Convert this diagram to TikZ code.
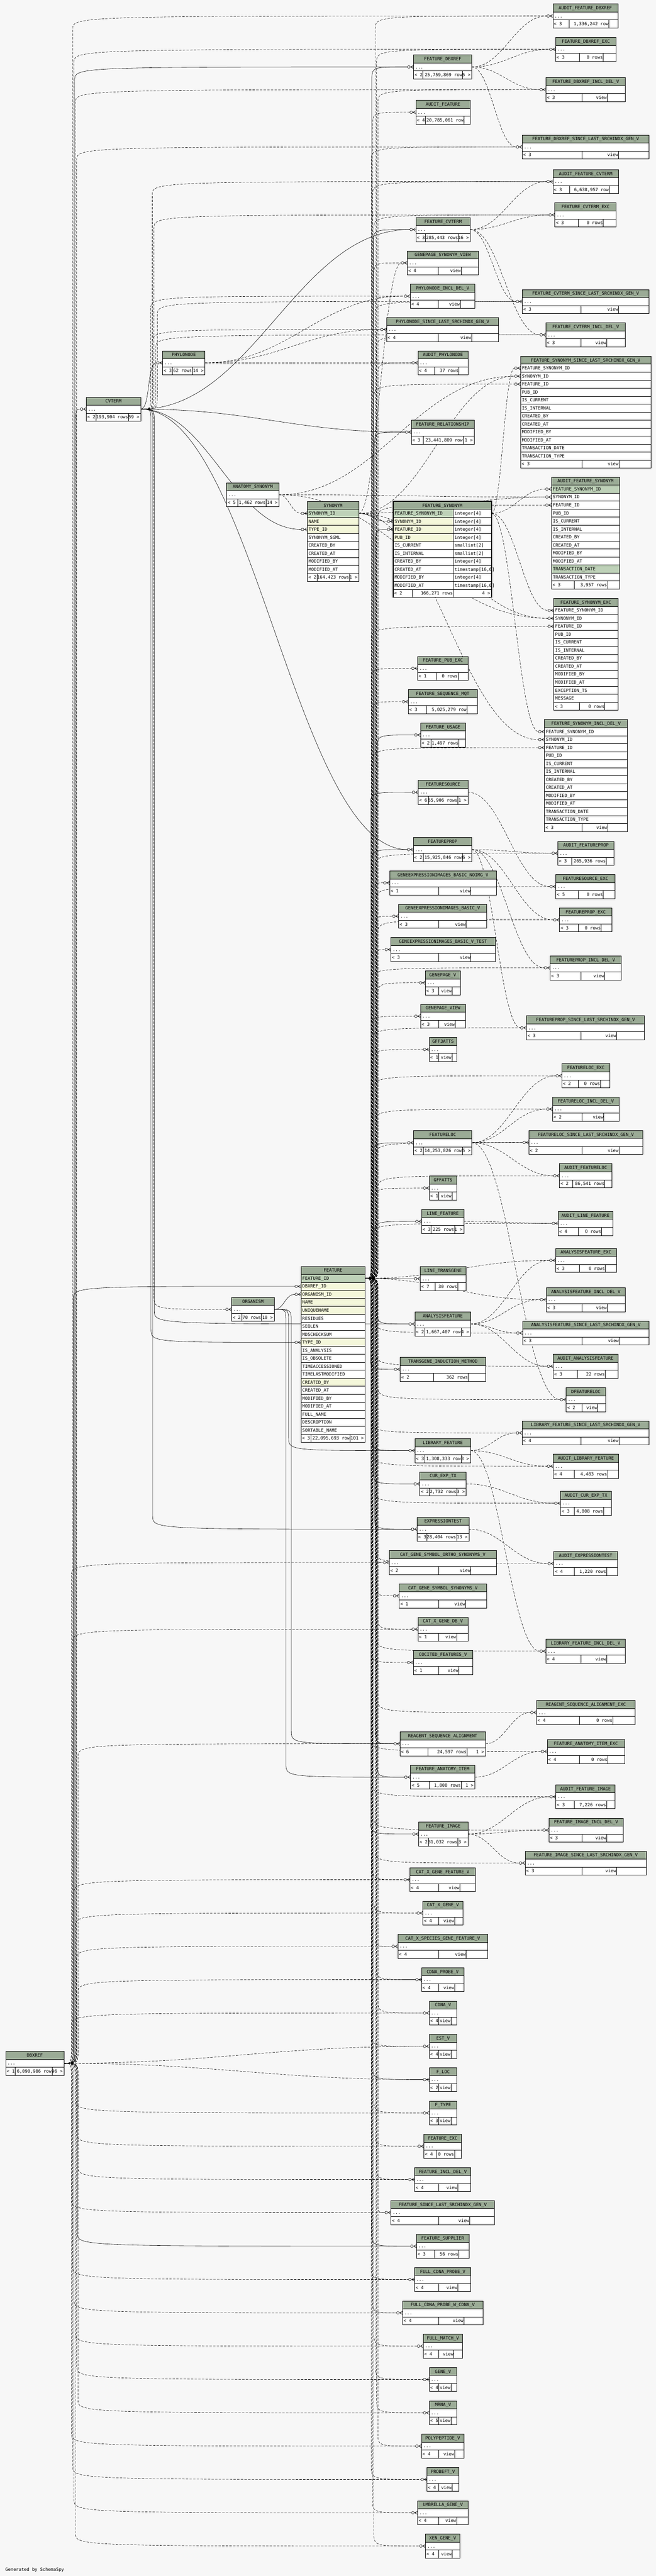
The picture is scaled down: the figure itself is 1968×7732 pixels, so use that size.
\documentclass[tikz,border=0pt]{standalone}
\usepackage{fontspec}
\setmonofont{DejaVu Sans Mono}
\definecolor{bgc}{HTML}{F7F7F7}
\definecolor{hdc}{HTML}{9BAB96}
\definecolor{pkc}{HTML}{BED1B8}
\definecolor{ixc}{HTML}{F4F7DA}
\pgfdeclarelayer{bglayer}
\pgfdeclarelayer{edgelayer}
\pgfsetlayers{bglayer,edgelayer,main}
\tikzset{
  tx/.style={font=\ttfamily\fontsize{13.3}{15}\selectfont,inner sep=0pt,text height=9.7pt,text depth=0pt},
  box/.style={draw=black,line width=1pt},
  fk/.style={draw=black,line width=0.9pt},
  imp/.style={draw=black,line width=0.9pt,dash pattern=on 7pt off 4pt},
  crow/.pic={
    \draw[line width=0.9pt] (-9,0) -- (0,-5) (-9,0) -- (0,0) (-9,0) -- (0,5);
    \draw[line width=0.9pt,fill=bgc] (-14,0) circle[radius=4pt];
  }
}
\newdimen\edsx \newdimen\edsy \newdimen\edtx \newdimen\edty
\newcommand\getends[2]{%
  \pgfextractx{\edsx}{\pgfpointanchor{#1}{center}}%
  \pgfextracty{\edsy}{\pgfpointanchor{#1}{center}}%
  \pgfextractx{\edtx}{\pgfpointanchor{#2}{center}}%
  \pgfextracty{\edty}{\pgfpointanchor{#2}{center}}%
  \edef\sxx{\the\edsx}\edef\syy{\the\edsy}\edef\txx{\the\edtx}\edef\tyy{\the\edty}}
% smooth S-curve from east side to west side
\newcommand\sedge[3]{%
  \getends{#2}{#3}%
  \pgfmathsetmacro\dd{max(30,0.42*abs(\txx-(\sxx)))}%
  \pgfmathsetmacro\ca{\sxx+\dd}%
  \pgfmathsetmacro\cb{\txx-\dd}%
  \draw[#1] (#2) .. controls (\ca pt,\syy) and (\cb pt,\tyy) .. (#3);}
% routed along a vertical bus at x = #4
\newcommand\busedge[4]{%
  \getends{#2}{#3}%
  \pgfmathsetmacro\dyy{abs(\tyy-(\syy))}%
  \pgfmathtruncatemacro\near{\dyy<90 ? 1 : 0}%
  \ifnum\near=1
    \sedge{#1}{#2}{#3}%
  \else
    \pgfmathsetmacro\rr{(\tyy)<(\syy) ? -40 : 40}%
    \pgfmathsetmacro\ya{\syy+(\rr)}%
    \pgfmathsetmacro\yb{\tyy-(\rr)}%
    \draw[#1] (#2) .. controls (#4pt,\syy) and (#4pt,\syy) .. (#4pt,\ya pt) -- (#4pt,\yb pt) .. controls (#4pt,\tyy) and (#4pt,\tyy) .. (#3);%
  \fi}
\newcommand\xtab[6]{%
  \fill[hdc] (#3,#5) rectangle (#4,#5+24);
  \draw[box] (#3,#5) rectangle (#4,#5+24);
  \node[tx] (#1) at ({(#3+#4)/2},#5+12) {#2};
  \foreach \cn/\col [count=\i] in {#6}{
    \fill[\col] (#3,#5+24*\i) rectangle (#4,#5+24*\i+24);
    \draw[box] (#3,#5+24*\i) rectangle (#4,#5+24*\i+24);
    \node[tx,anchor=west] at (#3+4,#5+24*\i+12) {\cn};
    \coordinate (#1-r\i-w) at (#3,#5+24*\i+12);
    \coordinate (#1-r\i-e) at (#4,#5+24*\i+12);
    \coordinate (#1-r\i-m) at (#3-18,#5+24*\i+12);
  }}
\newcommand\xfoot[8]{%
  \fill[white] (#1,#3) rectangle (#2,#3+24);
  \draw[box] (#1,#3) rectangle (#2,#3+24) (#4,#3) -- (#4,#3+24) (#5,#3) -- (#5,#3+24);
  \node[tx,anchor=west] at (#1+3,#3+12) {< #6};
  \node[tx,anchor=east] at (#5-1,#3+12) {#7};
  \node[tx,anchor=east] at (#2-4,#3+12) {#8};}
\begin{document}
\begin{tikzpicture}[x=1pt,y=-1pt]
\useasboundingbox (0,0) rectangle (1968,7732);
\begin{pgfonlayer}{bglayer}\fill[bgc] (0,0) rectangle (1968,7732);\end{pgfonlayer}

% ---------- compact tables ----------
\foreach \id/\nm/\xa/\xb/\yt/\da/\db/\lt/\mt/\rt in {
afdx/AUDIT\_FEATURE\_DBXREF/1659/1854/12/1707/1827/3/{1,336,242 row}/{},
fdxexc/FEATURE\_DBXREF\_EXC/1667/1849/112/1738/1810/3/{0 rows}/{},
fdx/FEATURE\_DBXREF/1241/1416/165/1269/1388/2/{25,759,869 row}/{5 >},
fdxincl/FEATURE\_DBXREF\_INCL\_DEL\_V/1638/1877/233/1746/1822/3/view/{},
af/AUDIT\_FEATURE/1248/1411/301/1277/1393/4/{20,785,061 row}/{},
fdxsince/FEATURE\_DBXREF\_SINCE\_LAST\_SRCHINDX\_GEN\_V/1567/1948/405/1746/1856/3/view/{},
afcv/AUDIT\_FEATURE\_CVTERM/1659/1856/509/1709/1828/3/{6,638,957 row}/{},
fcvexc/FEATURE\_CVTERM\_EXC/1665/1849/609/1735/1810/3/{0 rows}/{},
fcv/FEATURE\_CVTERM/1248/1411/653/1277/1376/3/{285,443 rows}/{16 >},
gsv/GENEPAGE\_SYNONYM\_VIEW/1222/1435/753/1315/1384/4/view/{},
pnincl/PHYLONODE\_INCL\_DEL\_V/1231/1425/853/1315/1381/4/view/{},
fcvsince/FEATURE\_CVTERM\_SINCE\_LAST\_SRCHINDX\_GEN\_V/1567/1948/869/1743/1856/3/view/{},
pnsince/PHYLONODE\_SINCE\_LAST\_SRCHINDX\_GEN\_V/1160/1496/953/1315/1415/4/view/{},
fcvincl/FEATURE\_CVTERM\_INCL\_DEL\_V/1638/1877/969/1743/1820/3/view/{},
apn/AUDIT\_PHYLONODE/1254/1404/1053/1304/1377/4/{37 rows}/{},
frel/FEATURE\_RELATIONSHIP/1234/1423/1261/1270/1390/3/{23,441,809 row}/{1 >},
anasyn/ANATOMY\_SYNONYM/680/837/1449/713/798/5/{1,462 rows}/{14 >},
fpubexc/FEATURE\_PUB\_EXC/1253/1405/1970/1310/1375/1/{0 rows}/{},
fseq/FEATURE\_SEQUENCE\_MQT/1225/1432/2070/1280/1401/3/{5,025,279 row}/{},
fusage/FEATURE\_USAGE/1262/1397/2170/1294/1377/2/{1,497 rows}/{},
fsrc/FEATURESOURCE/1255/1404/2342/1285/1374/6/{55,906 rows}/{1 >},
fprop/FEATUREPROP/1240/1416/2514/1270/1387/2/{15,925,846 row}/{6 >},
afprop/AUDIT\_FEATUREPROP/1674/1843/2525/1715/1819/3/{265,936 rows}/{},
genoimg/GENEEXPRESSIONIMAGES\_BASIC\_NOIMG\_V/1169/1489/2614/1317/1413/1/view/{},
fsrcexc/FEATURESOURCE\_EXC/1668/1846/2625/1736/1810/5/{0 rows}/{},
gebv/GENEEXPRESSIONIMAGES\_BASIC\_V/1196/1461/2714/1316/1399/3/view/{},
fpropexc/FEATUREPROP\_EXC/1679/1836/2725/1736/1804/3/{0 rows}/{},
gebvt/GENEEXPRESSIONIMAGES\_BASIC\_V\_TEST/1173/1486/2814/1317/1413/3/view/{},
fpropincl/FEATUREPROP\_INCL\_DEL\_V/1651/1864/2869/1743/1814/3/view/{},
gpv/GENEPAGE\_V/1276/1381/2914/1316/1357/3/view/{},
gpview/GENEPAGE\_VIEW/1262/1397/3014/1317/1366/3/view/{},
fpropsince/FEATUREPROP\_SINCE\_LAST\_SRCHINDX\_GEN\_V/1580/1934/3049/1743/1850/3/view/{},
gff3/GFF3ATTS/1288/1371/3114/1316/1356/1/view/{},
flocexc/FEATURELOC\_EXC/1686/1830/3193/1736/1802/2/{0 rows}/{},
flocincl/FEATURELOC\_INCL\_DEL\_V/1658/1858/3293/1746/1812/2/view/{},
floc/FEATURELOC/1241/1416/3394/1270/1387/2/{14,253,826 row}/{5 >},
flocsince/FEATURELOC\_SINCE\_LAST\_SRCHINDX\_GEN\_V/1587/1929/3393/1746/1857/2/view/{},
afloc/AUDIT\_FEATURELOC/1679/1836/3493/1719/1815/2/{86,541 rows}/{},
gffatts/GFFATTS/1288/1371/3530/1316/1356/1/view/{},
lfeat/LINE\_FEATURE/1265/1392/3630/1293/1364/3/{225 rows}/{1 >},
alfeat/AUDIT\_LINE\_FEATURE/1675/1839/3636/1736/1805/4/{0 rows}/{},
afexc/ANALYSISFEATURE\_EXC/1667/1850/3747/1738/1816/3/{0 rows}/{},
ltg/LINE\_TRANSGENE/1261/1398/3802/1305/1373/7/{30 rows}/{},
afincl/ANALYSISFEATURE\_INCL\_DEL\_V/1639/1877/3865/1746/1822/3/view/{},
anf/ANALYSISFEATURE/1245/1412/3938/1274/1384/2/{1,667,407 row}/{4 >},
anfsince/ANALYSISFEATURE\_SINCE\_LAST\_SRCHINDX\_GEN\_V/1568/1948/3965/1746/1858/3/view/{},
aanf/AUDIT\_ANALYSISFEATURE/1660/1854/4065/1732/1816/3/{22 rows}/{},
tim/TRANSGENE\_INDUCTION\_METHOD/1201/1457/4074/1301/1405/2/{362 rows}/{},
dfloc/DFEATURELOC/1699/1817/4165/1746/1793/2/view/{},
lfsince/LIBRARY\_FEATURE\_SINCE\_LAST\_SRCHINDX\_GEN\_V/1567/1948/4265/1744/1857/4/view/{},
libf/LIBRARY\_FEATURE/1245/1412/4318/1274/1384/3/{1,308,333 row}/{3 >},
alibf/AUDIT\_LIBRARY\_FEATURE/1660/1856/4365/1723/1823/4/{4,483 rows}/{},
cet/CUR\_EXP\_TX/1260/1399/4418/1288/1371/2/{2,732 rows}/{3 >},
acet/AUDIT\_CUR\_EXP\_TX/1682/1835/4476/1723/1811/3/{4,808 rows}/{},
et/EXPRESSIONTEST/1252/1407/4554/1281/1370/3/{28,404 rows}/{13 >},
cgso/CAT\_GENE\_SYMBOL\_ORTHO\_SYNONYMS\_V/1168/1489/4654/1316/1413/2/view/{},
aet/AUDIT\_EXPRESSIONTEST/1662/1853/4657/1723/1820/4/{1,220 rows}/{},
cgs/CAT\_GENE\_SYMBOL\_SYNONYMS\_V/1198/1460/4754/1316/1397/1/view/{},
cxgdb/CAT\_X\_GENE\_DB\_V/1254/1404/4854/1316/1370/1/view/{},
lfincl/LIBRARY\_FEATURE\_INCL\_DEL\_V/1638/1877/4920/1744/1820/4/view/{},
cocit/COCITED\_FEATURES\_V/1240/1418/4954/1316/1377/1/view/{},
rsaexc/REAGENT\_SEQUENCE\_ALIGNMENT\_EXC/1610/1906/5104/1738/1839/4/{0 rows}/{},
rsa/REAGENT\_SEQUENCE\_ALIGNMENT/1200/1457/5198/1284/1401/6/{24,597 rows}/{1 >},
faiexc/FEATURE\_ANATOMY\_ITEM\_EXC/1642/1874/5221/1738/1824/4/{0 rows}/{},
fai/FEATURE\_ANATOMY\_ITEM/1232/1425/5298/1288/1384/5/{1,808 rows}/{1 >},
afimg/AUDIT\_FEATURE\_IMAGE/1668/1846/5357/1723/1820/3/{7,226 rows}/{},
fimgincl/FEATURE\_IMAGE\_INCL\_DEL\_V/1647/1870/5457/1746/1820/3/view/{},
fimg/FEATURE\_IMAGE/1256/1404/5469/1285/1374/2/{31,032 rows}/{3 >},
fimgsince/FEATURE\_IMAGE\_SINCE\_LAST\_SRCHINDX\_GEN\_V/1576/1939/5556/1746/1850/3/view/{},
cxgf/CAT\_X\_GENE\_FEATURE\_V/1230/1427/5606/1316/1380/4/view/{},
cxg/CAT\_X\_GENE\_V/1269/1389/5706/1316/1364/4/view/{},
cxsgf/CAT\_X\_SPECIES\_GENE\_FEATURE\_V/1194/1463/5806/1316/1399/4/view/{},
cdnap/CDNA\_PROBE\_V/1265/1392/5906/1316/1364/4/view/{},
cdna/CDNA\_V/1288/1371/6006/1316/1353/4/view/{},
est/EST\_V/1288/1371/6106/1316/1353/4/view/{},
floct/F\_LOC/1288/1371/6206/1316/1353/2/view/{},
ftype/F\_TYPE/1288/1371/6306/1316/1353/3/view/{},
fexc/FEATURE\_EXC/1272/1385/6406/1309/1364/4/{0 rows}/{},
fincl/FEATURE\_INCL\_DEL\_V/1244/1413/6506/1316/1373/4/view/{},
fsince/FEATURE\_SINCE\_LAST\_SRCHINDX\_GEN\_V/1173/1484/6605/1316/1409/4/view/{},
fsup/FEATURE\_SUPPLIER/1250/1407/6706/1304/1377/3/{56 rows}/{},
fcdnap/FULL\_CDNA\_PROBE\_V/1244/1413/6806/1316/1373/4/view/{},
fcdnapw/FULL\_CDNA\_PROBE\_W\_CDNA\_V/1208/1449/6906/1316/1392/4/view/{},
fmatch/FULL\_MATCH\_V/1270/1388/7006/1316/1362/4/view/{},
genev/GENE\_V/1288/1371/7106/1316/1353/4/view/{},
mrna/MRNA\_V/1288/1371/7206/1316/1353/5/view/{},
poly/POLYPEPTIDE\_V/1265/1392/7306/1316/1364/4/view/{},
probeft/PROBEFT\_V/1281/1377/7406/1316/1357/4/view/{},
umb/UMBRELLA\_GENE\_V/1253/1405/7506/1316/1370/4/view/{},
xen/XEN\_GENE\_V/1277/1380/7606/1316/1357/4/view/{},
phylo/PHYLONODE/488/615/1053/517/577/3/{62 rows}/{14 >},
cvterm/CVTERM/259/422/1192/288/386/2/{193,904 rows}/{59 >},
dbxref/DBXREF/17/192/6157/45/156/1/{6,090,986 row}/{96 >},
organism/ORGANISM/695/823/3894/726/785/2/{70 rows}/{10 >}}{
  \fill[white] (\xa,\yt+24) rectangle (\xb,\yt+72);
  \fill[hdc] (\xa,\yt) rectangle (\xb,\yt+24);
  \draw[box] (\xa,\yt) rectangle (\xb,\yt+72)
     (\xa,\yt+24) -- (\xb,\yt+24) (\xa,\yt+48) -- (\xb,\yt+48)
     (\da,\yt+48) -- (\da,\yt+72) (\db,\yt+48) -- (\db,\yt+72);
  \node[tx] (\id) at ({(\xa+\xb)/2},\yt+12) {\nm};
  \node[tx,anchor=west] at (\xa+5,\yt+36) {...};
  \node[tx,anchor=west] at (\xa+3,\yt+60) {< \lt};
  \node[tx,anchor=east] at (\db-1,\yt+60) {\mt};
  \node[tx,anchor=east] at (\xb-4,\yt+60) {\rt};
  \coordinate (\id-w) at (\xa,\yt+36);
  \coordinate (\id-e) at (\xb,\yt+36);
  \coordinate (\id-m) at (\xa-18,\yt+36);
}

% ---------- expanded tables ----------
\xtab{syn}{SYNONYM}{922}{1077}{1505}{SYNONYM\_ID/pkc,NAME/ixc,TYPE\_ID/ixc,SYNONYM\_SGML/white,CREATED\_BY/white,CREATED\_AT/white,MODIFIED\_BY/white,MODIFIED\_AT/white}
\xfoot{922}{1077}{1721}{951}{1049}{2}{164,423 rows}{1 >}

\xtab{feat}{FEATURE}{903}{1096}{3801}{FEATURE\_ID/pkc,DBXREF\_ID/ixc,ORGANISM\_ID/ixc,NAME/ixc,UNIQUENAME/ixc,RESIDUES/white,SEQLEN/white,MD5CHECKSUM/white,TYPE\_ID/ixc,IS\_ANALYSIS/white,IS\_OBSOLETE/white,TIMEACCESSIONED/white,TIMELASTMODIFIED/white,CREATED\_BY/ixc,CREATED\_AT/white,MODIFIED\_BY/white,MODIFIED\_AT/white,FULL\_NAME/white,DESCRIPTION/white,SORTABLE\_NAME/white}
\xfoot{903}{1096}{4305}{933}{1051}{3}{22,095,693 row}{101 >}

\xtab{fssince}{FEATURE\_SYNONYM\_SINCE\_LAST\_SRCHINDX\_GEN\_V}{1562}{1953}{1069}{FEATURE\_SYNONYM\_ID/white,SYNONYM\_ID/white,FEATURE\_ID/white,PUB\_ID/white,IS\_CURRENT/white,IS\_INTERNAL/white,CREATED\_BY/white,CREATED\_AT/white,MODIFIED\_BY/white,MODIFIED\_AT/white,TRANSACTION\_DATE/white,TRANSACTION\_TYPE/white}
\xfoot{1562}{1953}{1381}{1746}{1857}{3}{view}{}

\xtab{afs}{AUDIT\_FEATURE\_SYNONYM}{1655}{1859}{1432}{FEATURE\_SYNONYM\_ID/pkc,SYNONYM\_ID/white,FEATURE\_ID/white,PUB\_ID/white,IS\_CURRENT/white,IS\_INTERNAL/white,CREATED\_BY/white,CREATED\_AT/white,MODIFIED\_BY/white,MODIFIED\_AT/white,TRANSACTION\_DATE/pkc,TRANSACTION\_TYPE/white}
\xfoot{1655}{1859}{1744}{1723}{1823}{3}{3,957 rows}{}

\xtab{fsexc}{FEATURE\_SYNONYM\_EXC}{1662}{1854}{1796}{FEATURE\_SYNONYM\_ID/white,SYNONYM\_ID/white,FEATURE\_ID/white,PUB\_ID/white,IS\_CURRENT/white,IS\_INTERNAL/white,CREATED\_BY/white,CREATED\_AT/white,MODIFIED\_BY/white,MODIFIED\_AT/white,EXCEPTION\_TS/white,MESSAGE/white}
\xfoot{1662}{1854}{2108}{1738}{1815}{3}{0 rows}{}

\xtab{fsincl}{FEATURE\_SYNONYM\_INCL\_DEL\_V}{1634}{1883}{2160}{FEATURE\_SYNONYM\_ID/white,SYNONYM\_ID/white,FEATURE\_ID/white,PUB\_ID/white,IS\_CURRENT/white,IS\_INTERNAL/white,CREATED\_BY/white,CREATED\_AT/white,MODIFIED\_BY/white,MODIFIED\_AT/white,TRANSACTION\_DATE/white,TRANSACTION\_TYPE/white}
\xfoot{1634}{1883}{2472}{1746}{1823}{3}{view}{}

% focus table FEATURE_SYNONYM
\fill[hdc] (1180,1505) rectangle (1475,1529);
\draw[box] (1180,1505) rectangle (1475,1529);
\node[tx] (fsyn) at (1327.5,1517) {FEATURE\_SYNONYM};
\foreach \cn/\ty/\col [count=\i] in {FEATURE\_SYNONYM\_ID/integer[4]/pkc,SYNONYM\_ID/integer[4]/ixc,FEATURE\_ID/integer[4]/ixc,PUB\_ID/integer[4]/ixc,IS\_CURRENT/smallint[2]/white,IS\_INTERNAL/smallint[2]/white,CREATED\_BY/integer[4]/white,CREATED\_AT/{timestamp[16,6]}/white,MODIFIED\_BY/integer[4]/white,MODIFIED\_AT/{timestamp[16,6]}/white}{
  \fill[white] (1180,1505+24*\i) rectangle (1475,1529+24*\i);
  \fill[\col] (1180,1505+24*\i) rectangle (1360,1529+24*\i);
  \draw[box] (1180,1505+24*\i) rectangle (1360,1529+24*\i) (1360,1505+24*\i) rectangle (1475,1529+24*\i);
  \node[tx,anchor=west] at (1184,1517+24*\i) {\cn};
  \node[tx,anchor=west] at (1364,1517+24*\i) {\ty};
  \coordinate (fsyn-r\i-w) at (1180,1517+24*\i);
  \coordinate (fsyn-r\i-e) at (1475,1517+24*\i);
  \coordinate (fsyn-r\i-m) at (1162,1517+24*\i);
}
\xfoot{1180}{1475}{1769}{1238}{1360}{2}{166,271 rows}{4 >}
\draw[line width=2.5pt] (1180,1505) rectangle (1475,1793);

% ---------- markers ----------
\foreach \tg in {afdx,fdxexc,fdx,fdxincl,af,fdxsince,afcv,fcvexc,fcv,gsv,pnincl,fcvsince,pnsince,fcvincl,apn,frel,fpubexc,fseq,fusage,fsrc,fprop,afprop,genoimg,fsrcexc,gebv,fpropexc,gebvt,fpropincl,gpv,gpview,fpropsince,gff3,flocexc,flocincl,floc,flocsince,afloc,gffatts,lfeat,alfeat,afexc,ltg,afincl,anf,anfsince,aanf,tim,dfloc,lfsince,libf,alibf,cet,acet,et,cgso,aet,cgs,cxgdb,lfincl,cocit,rsaexc,rsa,faiexc,fai,afimg,fimgincl,fimg,fimgsince,cxgf,cxg,cxsgf,cdnap,cdna,est,floct,ftype,fexc,fincl,fsince,fsup,fcdnap,fcdnapw,fmatch,genev,mrna,poly,probeft,umb,xen,phylo,cvterm,organism,syn-r1,syn-r3,fsyn-r2,fsyn-r3,feat-r2,feat-r3,feat-r9,afs-r1,afs-r2,afs-r3,fsexc-r1,fsexc-r2,fsexc-r3,fsincl-r1,fsincl-r2,fsincl-r3,fssince-r1,fssince-r2,fssince-r3}{
  \pic at (\tg-w) {crow};
}

% ---------- connectors ----------
\begin{pgfonlayer}{edgelayer}
% FEATURE children (solid)
\foreach \tg [count=\k] in {fdx,fcv,frel,fsyn-r3,fusage,fsrc,fprop,floc,lfeat,ltg,anf,tim,libf,cet,et,rsa,fai,fimg,fsup}{
  \pgfmathsetmacro\bx{1112+mod(\k,6)*4}\busedge{fk}{feat-r1-e}{\tg-m}{\bx}}
% FEATURE implied
\foreach \tg [count=\k] in {af,gsv,pnincl,pnsince,apn,fpubexc,fseq,genoimg,gebv,gebvt,gpv,gpview,gff3,gffatts,cgso,cgs,cxgdb,cocit,cxgf,cxg,cxsgf,cdnap,cdna,est,floct,ftype,fexc,fincl,fsince,fcdnap,fcdnapw,fmatch,genev,mrna,poly,probeft,umb,xen,afdx,fdxexc,fdxincl,fdxsince,afcv,fcvexc,fcvsince,fcvincl,afs-r3,fsexc-r3,fsincl-r3,fssince-r3,afprop,fsrcexc,fpropexc,fpropincl,fpropsince,flocexc,flocincl,flocsince,afloc,alfeat,afexc,afincl,anfsince,aanf,dfloc,lfsince,alibf,acet,aet,lfincl,rsaexc,faiexc,afimg,fimgincl,fimgsince}{
  \pgfmathsetmacro\bx{1114+mod(\k,6)*4}\busedge{imp}{feat-r1-e}{\tg-m}{\bx}}
% DBXREF
\foreach \tg [count=\k] in {feat-r2,fdx,cvterm,fsup}{
  \pgfmathsetmacro\bx{216+mod(\k,6)*4}\busedge{fk}{dbxref-e}{\tg-m}{\bx}}
\foreach \tg [count=\k] in {afdx,fdxexc,fdxincl,fdxsince,rsa,cgso,cxgdb,cxgf,cxg,cxsgf,cdnap,cdna,est,floct,ftype,fexc,fincl,fsince,fcdnap,fcdnapw,fmatch,genev,mrna,poly,probeft,umb,xen}{
  \pgfmathsetmacro\bx{214+mod(\k,6)*4}\busedge{imp}{dbxref-e}{\tg-m}{\bx}}
% CVTERM
\foreach \tg in {syn-r3,frel,fcv,phylo,fprop}{\sedge{fk}{cvterm-e}{\tg-m}}
\foreach \tg [count=\k] in {feat-r9,et,anf}{
  \pgfmathsetmacro\bx{448+mod(\k,5)*5}\busedge{fk}{cvterm-e}{\tg-m}{\bx}}
\foreach \tg [count=\k] in {afcv,fcvexc,fcvincl,fcvsince,pnincl,pnsince,organism}{
  \pgfmathsetmacro\bx{452+mod(\k,5)*5}\busedge{imp}{cvterm-e}{\tg-m}{\bx}}
% ORGANISM
\sedge{fk}{organism-e}{feat-r3-m}
\foreach \tg [count=\k] in {libf,rsa,fai}{
  \pgfmathsetmacro\bx{858+mod(\k,3)*8}\busedge{fk}{organism-e}{\tg-m}{\bx}}
% PHYLONODE
\foreach \tg in {pnincl,pnsince,apn}{\sedge{imp}{phylo-e}{\tg-m}}
% SYNONYM
\sedge{fk}{syn-r1-e}{fsyn-r2-m}
\foreach \tg in {afs-r2,fsexc-r2,fsincl-r2,fssince-r2,gsv}{\sedge{imp}{syn-r1-e}{\tg-m}}
% ANATOMY_SYNONYM
\foreach \tg in {syn-r1,afs-r2,fsexc-r2,fssince-r2}{\sedge{imp}{anasyn-e}{\tg-m}}
% FEATURE_SYNONYM
\foreach \tg in {afs-r1,fsexc-r1,fsincl-r1,fssince-r1}{\sedge{imp}{fsyn-r1-e}{\tg-m}}
% intermediate parents to audit / exc / views
\foreach \s/\tg in {fdx/afdx,fdx/fdxexc,fdx/fdxincl,fdx/fdxsince,fcv/afcv,fcv/fcvexc,fcv/fcvsince,fcv/fcvincl,fprop/afprop,fprop/fpropexc,fprop/fpropincl,fprop/fpropsince,fsrc/fsrcexc,floc/flocincl,floc/flocsince,floc/afloc,floc/flocexc,floc/dfloc,lfeat/alfeat,anf/afexc,anf/afincl,anf/anfsince,anf/aanf,libf/alibf,libf/lfsince,libf/lfincl,cet/acet,et/aet,rsa/rsaexc,fai/faiexc,fimg/fimgincl,fimg/fimgsince,fimg/afimg}{
  \sedge{imp}{\s-e}{\tg-m}}
\end{pgfonlayer}

\node[tx,anchor=west] (gen) at (16,7713) {Generated by SchemaSpy};
\end{tikzpicture}
\end{document}
